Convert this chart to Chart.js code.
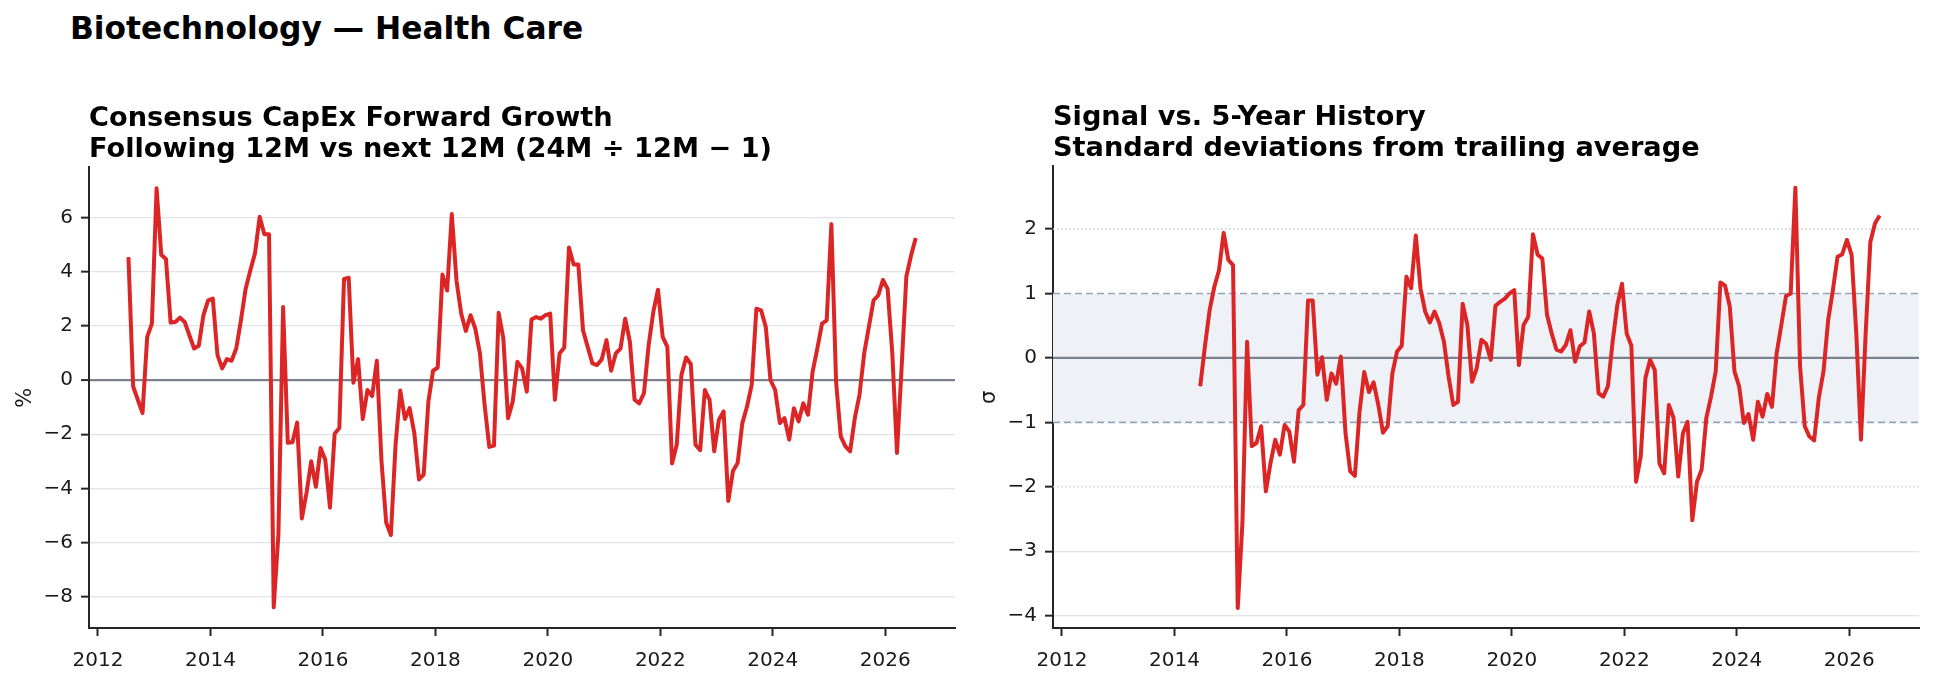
<!DOCTYPE html>
<html>
<head>
<meta charset="utf-8">
<script src="https://cdn.jsdelivr.net/npm/chart.js@4.4.1/dist/chart.umd.min.js"></script>
<style>
  body { margin: 0; background: #fff; width: 1934px; height: 679px; position: relative; overflow: hidden; font-family: "DejaVu Sans", sans-serif; }
  #suptitle { position: absolute; left: 70px; top: 9px; font-size: 31.3px; font-weight: bold; color: #000; line-height: 38px; white-space: nowrap; }
  canvas { position: absolute; top: 0; }
  #growthChart { left: 0; }
  #signalChart { left: 967px; }
</style>
</head>
<body>
<div id="suptitle">Biotechnology — Health Care</div>
<canvas id="growthChart" width="967" height="679"></canvas>
<canvas id="signalChart" width="967" height="679"></canvas>
<script>
// monthly data, growth starts Jul 2012, signal (z-score) starts Jun 2014
const growthStart = [2012, 7];
const growthValues = [
  4.53, -0.24, -0.73, -1.22, 1.59, 2.08, 7.07, 4.62, 4.46, 2.12, 2.14, 2.30,
  2.14, 1.65, 1.16, 1.26, 2.39, 2.94, 3.00, 0.92, 0.43, 0.77, 0.71, 1.16,
  2.20, 3.36, 4.04, 4.67, 6.02, 5.38, 5.38, -8.38, -5.69, 2.69, -2.32, -2.30,
  -1.57, -5.11, -4.16, -3.00, -3.94, -2.51, -2.94, -4.71, -1.98, -1.77, 3.73, 3.77,
  -0.10, 0.77, -1.44, -0.37, -0.59, 0.71, -3.00, -5.26, -5.72, -2.39, -0.39, -1.44,
  -1.04, -1.96, -3.67, -3.49, -0.80, 0.34, 0.46, 3.89, 3.30, 6.12, 3.67, 2.45,
  1.81, 2.39, 1.90, 0.98, -0.92, -2.47, -2.42, 2.48, 1.53, -1.41, -0.80, 0.67,
  0.43, -0.43, 2.23, 2.32, 2.26, 2.39, 2.45, -0.73, 0.98, 1.20, 4.89, 4.26,
  4.26, 1.83, 1.22, 0.61, 0.55, 0.76, 1.47, 0.34, 0.98, 1.16, 2.26, 1.41,
  -0.73, -0.86, -0.49, 1.28, 2.51, 3.33, 1.59, 1.22, -3.08, -2.39, 0.18, 0.83,
  0.59, -2.39, -2.59, -0.37, -0.73, -2.63, -1.47, -1.16, -4.46, -3.36, -3.06, -1.59,
  -0.98, -0.18, 2.63, 2.57, 1.96, 0.00, -0.37, -1.59, -1.41, -2.20, -1.04, -1.53,
  -0.86, -1.28, 0.31, 1.16, 2.08, 2.20, 5.75, -0.06, -2.08, -2.45, -2.63, -1.41,
  -0.55, 0.98, 1.96, 2.94, 3.12, 3.69, 3.36, 0.98, -2.69, 0.50, 3.82, 4.59,
  5.24
];
const signalStart = [2014, 6];
const signalValues = [
  -0.44, 0.18, 0.74, 1.10, 1.36, 1.94, 1.52, 1.44, -3.88, -2.56, 0.25, -1.37, -1.32,
  -1.06, -2.07, -1.63, -1.27, -1.50, -1.04, -1.14, -1.61, -0.81, -0.73, 0.89, 0.89,
  -0.26, 0.01, -0.65, -0.24, -0.40, 0.02, -1.17, -1.76, -1.83, -0.83, -0.22, -0.53,
  -0.38, -0.73, -1.16, -1.06, -0.24, 0.10, 0.19, 1.26, 1.08, 1.90, 1.08, 0.72,
  0.55, 0.72, 0.54, 0.25, -0.29, -0.73, -0.68, 0.84, 0.51, -0.37, -0.16, 0.28,
  0.22, -0.03, 0.81, 0.87, 0.92, 1.00, 1.05, -0.11, 0.51, 0.64, 1.92, 1.60,
  1.54, 0.67, 0.38, 0.13, 0.10, 0.20, 0.43, -0.06, 0.18, 0.24, 0.72, 0.38,
  -0.55, -0.60, -0.44, 0.25, 0.82, 1.15, 0.38, 0.19, -1.92, -1.53, -0.31, -0.03,
  -0.19, -1.64, -1.79, -0.73, -0.93, -1.84, -1.17, -0.99, -2.52, -1.92, -1.73, -0.93,
  -0.60, -0.21, 1.17, 1.12, 0.80, -0.21, -0.44, -1.01, -0.87, -1.27, -0.68, -0.91,
  -0.56, -0.76, 0.07, 0.51, 0.96, 1.00, 2.64, -0.13, -1.06, -1.22, -1.28, -0.62,
  -0.21, 0.59, 1.05, 1.57, 1.61, 1.83, 1.60, 0.38, -1.27, 0.38, 1.80, 2.09,
  2.21
];

const yearTicks = [2012, 2014, 2016, 2018, 2020, 2022, 2024, 2026];
const growthTicks = [-8, -6, -4, -2, 0, 2, 4, 6];
const signalTicks = [-4, -3, -2, -1, 0, 1, 2];
const bandLevels = [-1, 1];
const outerLevels = [-2, 2];

const xMin = 2011.84, xMax = 2027.24;
const family = 'DejaVu Sans';
const ink = '#1a1a1a';
const spine = '#262626';
const red = '#dc2626';
const zeroGray = '#7b818e';
const gridGray = '#e2e4ea';

function toPoints(start, values) {
  return values.map((v, i) => ({ x: start[0] + (start[1] - 0.5 + i) / 12, y: v }));
}

function hline(y, color, dash, width, extra) {
  return Object.assign({
    data: [{ x: xMin, y: y }, { x: xMax, y: y }],
    borderColor: color, borderDash: dash, borderWidth: width,
    pointRadius: 0, fill: false, order: 1
  }, extra || {});
}

function fmt(v) {
  return v < 0 ? '\u2212' + Math.abs(v) : String(v);
}

function xScale() {
  return {
    type: 'linear', min: xMin, max: xMax,
    afterBuildTicks: s => { s.ticks = yearTicks.map(v => ({ value: v })); },
    ticks: { font: { family, size: 20 }, color: ink, padding: 13, maxRotation: 0, autoSkip: false, callback: v => String(v) },
    grid: { drawOnChartArea: false, tickLength: 8, tickWidth: 2, tickColor: spine },
    border: { color: spine, width: 2 },
    afterFit: s => { s.height = 51; }
  };
}

function yScale(min, max, ticks, label, width, titlePad, gridColor, gridWidth) {
  return {
    type: 'linear', min, max,
    afterBuildTicks: s => { s.ticks = ticks.map(v => ({ value: v })); },
    ticks: { font: { family, size: 20 }, color: ink, padding: 8, callback: v => fmt(v) },
    grid: { color: gridColor, lineWidth: gridWidth, tickLength: 8, tickWidth: 2, tickColor: spine },
    border: { color: spine, width: 2 },
    title: { display: true, text: label, color: ink, font: { family, size: 21 }, padding: { top: titlePad, bottom: 0 } },
    afterFit: s => { s.width = width; }
  };
}

function titleOpts(lines) {
  return {
    display: true, text: lines, align: 'start', fullSize: false, color: '#000',
    font: { family, size: 27.2, weight: 'bold', lineHeight: 1.13 },
    padding: { top: 0, bottom: 2 }
  };
}

new Chart(document.getElementById('growthChart'), {
  type: 'line',
  data: {
    datasets: [{
      data: toPoints(growthStart, growthValues),
      borderColor: red, borderWidth: 4, pointRadius: 0,
      borderJoinStyle: 'round', fill: false, order: 0
    }]
  },
  options: {
    responsive: false, animation: false, devicePixelRatio: 1,
    layout: { padding: { top: 104, right: 12, bottom: 0, left: 0 } },
    plugins: {
      legend: { display: false },
      tooltip: { enabled: false },
      title: titleOpts(['Consensus CapEx Forward Growth', 'Following 12M vs next 12M (24M \u00f7 12M \u2212 1)'])
    },
    scales: {
      x: xScale(),
      y: yScale(-9.15, 7.84, growthTicks, '%', 89, 13,
        ctx => ctx.tick.value === 0 ? zeroGray : gridGray,
        ctx => ctx.tick.value === 0 ? 2.2 : 1.3)
    }
  }
});

new Chart(document.getElementById('signalChart'), {
  type: 'line',
  data: {
    datasets: [
      {
        data: toPoints(signalStart, signalValues),
        borderColor: red, borderWidth: 4, pointRadius: 0,
        borderJoinStyle: 'round', fill: false, order: 0
      },
      hline(bandLevels[1], 'rgba(0,0,0,0)', [], 0, { fill: { value: bandLevels[0] }, backgroundColor: '#eef2f7', order: 3 }),
      hline(0, zeroGray, [], 2.2),
      hline(bandLevels[0], '#97a3b6', [7, 4], 1.6),
      hline(bandLevels[1], '#97a3b6', [7, 4], 1.6),
      hline(outerLevels[0], '#c3cad6', [1.5, 2.5], 1.4),
      hline(outerLevels[1], '#c3cad6', [1.5, 2.5], 1.4)
    ]
  },
  options: {
    responsive: false, animation: false, devicePixelRatio: 1,
    layout: { padding: { top: 103, right: 15, bottom: 0, left: 0 } },
    plugins: {
      legend: { display: false },
      tooltip: { enabled: false },
      title: titleOpts(['Signal vs. 5-Year History', 'Standard deviations from trailing average'])
    },
    scales: {
      x: xScale(),
      y: yScale(-4.19, 2.97, signalTicks, '\u03c3', 86, 9.5,
        ctx => Math.abs(ctx.tick.value) >= 3 ? gridGray : 'rgba(0,0,0,0)',
        1.3)
    }
  }
});
</script>
</body>
</html>
